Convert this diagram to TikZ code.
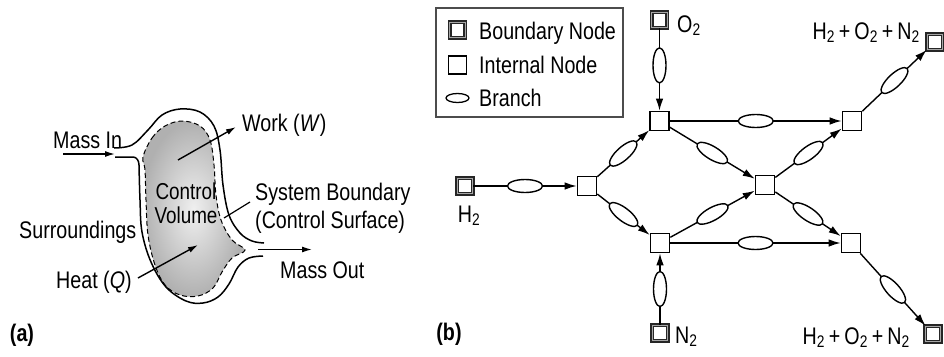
\documentclass[tikz,border=0pt]{standalone}
\usepackage{fontspec}
\setmainfont{Liberation Sans}[FakeStretch=0.82]
\usetikzlibrary{arrows.meta,shapes.geometric}
\begin{document}
\begin{tikzpicture}[x=1pt,y=-1pt,
  font=\fontsize{24}{27}\selectfont,
  lbl/.style={inner sep=0pt, text height=16.5pt, text depth=4pt},
  tag/.style={lbl, font=\fontsize{24}{27}\selectfont\bfseries},
  internal/.style={draw, line width=1.6pt, minimum size=19pt, inner sep=0pt, fill=white},
  bnode/.style={draw=black!85, fill=white, line width=1.1pt, double=gray!70, double distance=1.4pt, minimum size=15.5pt, inner sep=0pt},
  branch/.style={draw, ellipse, line width=1.4pt, minimum width=35pt, minimum height=13pt, inner sep=0pt, fill=white},
  edge/.style={line width=1.4pt},
  arr/.style={edge, -{Latex[length=12pt,width=7.5pt]}},
  flow/.style={line width=1.4pt, -{Latex[length=10pt,width=6pt]}},
  wall/.style={line width=1.5pt}]
\useasboundingbox (0,0) rectangle (944,356);

% ---------------- panel (a) ----------------
\shade[inner color=gray!12, outer color=gray!62]
  plot[smooth cycle, tension=0.6] coordinates {(143,157) (152,138) (165,126) (182,121) (200,126) (210,140) (214,165) (216,195) (221,220) (232,240) (245,250) (232,258) (222,272) (213,288) (198,296) (180,295) (165,285) (155,265) (148,235) (146,200) (145,170)};
\draw[line width=1pt, dash pattern=on 5pt off 3pt]
  plot[smooth cycle, tension=0.6] coordinates {(143,157) (152,138) (165,126) (182,121) (200,126) (210,140) (214,165) (216,195) (221,220) (232,240) (245,250) (232,258) (222,272) (213,288) (198,296) (180,295) (165,285) (155,265) (148,235) (146,200) (145,170)};
% outer wall, upper part
\draw[wall] plot[smooth, tension=0.6] coordinates {(114,148) (132,145) (148,130) (162,115) (180,109) (200,112) (214,126) (220,150) (223,185) (229,215) (240,233) (252,241) (264,243)};
% outer wall, lower part
\draw[wall] (115,157) -- (133,157) to[out=0,in=90] (139,165)
  plot[smooth, tension=0.6] coordinates {(139,165) (140,200) (142,232) (151,262) (166,287) (186,301) (203,303) (218,297) (229,284) (238,267) (249,258) (263,256)};

\coordinate (miA) at (63,154); \coordinate (miB) at (115,154);
\draw[flow] (miA) -- (miB);
\coordinate (moA) at (258,249.5); \coordinate (moB) at (312,249.5);
\draw[flow] (moA) -- (moB);
\coordinate (wA) at (178,160); \coordinate (wB) at (236,127);
\draw[flow] (wA) -- (wB);
\coordinate (hA) at (138,278); \coordinate (hB) at (198,245);
\draw[flow] (hA) -- (hB);
\coordinate (sbA) at (250,202); \coordinate (sbB) at (224,218);
\draw[line width=1.2pt] (sbA) -- (sbB);

\node[lbl, anchor=west] (massin) at (53,142) {Mass In};
\node[lbl, anchor=west] (work) at (242,125) {Work (\textit{W})};
\node[lbl, anchor=west] (sysb) at (255,194) {System Boundary};
\node[lbl, anchor=west] (csurf) at (255,222) {(Control Surface)};
\node[lbl, anchor=west] (surr) at (19,232) {Surroundings};
\node[lbl, font=\fontsize{23}{26}\selectfont] (cv1) at (186,193) {Control};
\node[lbl, font=\fontsize{23}{26}\selectfont] (cv2) at (186,217) {Volume};
\node[lbl, anchor=west] (heat) at (56,282) {Heat (\textit{Q})};
\node[lbl, anchor=west] (massout) at (280,272) {Mass Out};
\node[tag] (taga) at (22,335) {(a)};

% ---------------- panel (b) ----------------
\node[tag] (tagb) at (449,334) {(b)};

% legend
\node[draw=black!70, line width=1.3pt, minimum width=187pt, minimum height=109pt, inner sep=0pt] (legend) at (529.5,62.5) {};
\node[bnode] (lgb) at (457.5,30) {};
\node[internal, minimum size=18pt, line width=1.5pt] (lgi) at (457.5,65) {};
\node[branch, minimum width=23pt, minimum height=9pt, line width=1.3pt] (lgr) at (457.5,98) {};
\node[lbl, anchor=west] (lgbt) at (479,33) {Boundary Node};
\node[lbl, anchor=west] (lgit) at (479,67) {Internal Node};
\node[lbl, anchor=west] (lgrt) at (479,100) {Branch};

% nodes
\node[bnode] (O2) at (659.5,20) {};
\node[bnode] (H2) at (465,186) {};
\node[bnode] (N2) at (660,333) {};
\node[bnode] (OUT1) at (935,42) {};
\node[bnode] (OUT2) at (933,334) {};
\node[internal] (A) at (659.5,121) {};
\node[internal] (L) at (587,186) {};
\node[internal] (B) at (660,243) {};
\node[internal] (M) at (765,185) {};
\node[internal] (R1) at (852,121) {};
\node[internal] (R2) at (851,243) {};

% labels
\node[lbl, anchor=west] (O2t) at (677,26) {O\textsubscript{2}};
\node[lbl] (H2t) at (469,216) {H\textsubscript{2}};
\node[lbl, anchor=west] (N2t) at (675,337) {N\textsubscript{2}};
\node[lbl, anchor=east] (OUT1t) at (920,33) {H\textsubscript{2}\,+\,O\textsubscript{2}\,+\,N\textsubscript{2}};
\node[lbl, anchor=east] (OUT2t) at (910,338) {H\textsubscript{2}\,+\,O\textsubscript{2}\,+\,N\textsubscript{2}};

% branches
\draw[arr] (O2) -- node[branch, sloped, pos=0.45] {} (A);
\draw[arr] (H2) -- node[branch, sloped] {} (L);
\draw[arr] (N2) -- node[branch, sloped, pos=0.5] {} (B);
\draw[arr] (L) -- node[branch, sloped] {} (A);
\draw[arr] (L) -- node[branch, sloped] {} (B);
\draw[arr] (A) -- node[branch, sloped] {} (M);
\draw[arr] (B) -- node[branch, sloped] {} (M);
\draw[arr] (A) -- node[branch, sloped] {} (R1);
\draw[arr] (B) -- node[branch, sloped] {} (R2);
\draw[arr] (M) -- node[branch, sloped] {} (R1);
\draw[arr] (M) -- node[branch, sloped] {} (R2);
\draw[arr] (R1) -- node[branch, sloped] {} (OUT1);
\draw[arr] (R2) -- node[branch, sloped] {} (OUT2);
\end{tikzpicture}
\end{document}
